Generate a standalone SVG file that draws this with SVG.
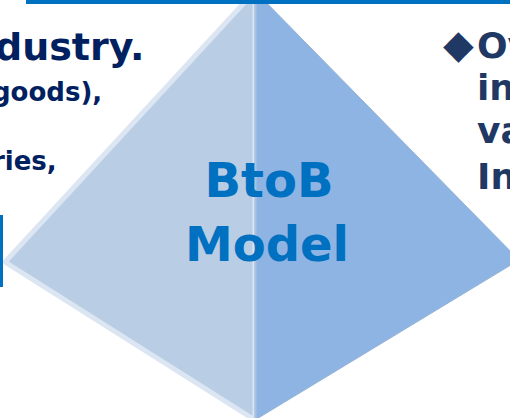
<svg xmlns="http://www.w3.org/2000/svg" width="510" height="418" viewBox="0 0 510 418">
  <style>
    .navy { fill: #002060; font-family: "DejaVu Sans", Verdana, sans-serif; font-weight: bold; }
    .navy2 { fill: #1F3864; font-family: "DejaVu Sans", Verdana, sans-serif; font-weight: bold; font-size: 36px; }
    .label { fill: #0070C0; font-family: "DejaVu Sans", Verdana, sans-serif; font-weight: bold; font-size: 48px; text-anchor: middle; }
    .bar { fill: #0070C0; }
  </style>
  <rect width="510" height="418" fill="#FFFFFF"/>
  <g id="pyramid">
    <polygon points="255,-9 5,262 255,420" fill="#B9CDE5" stroke="#DCE6F2" stroke-width="5" stroke-linejoin="miter"/>
    <polygon points="255,-9 519,260 255,420" fill="#8EB4E3" stroke="#95B3D7" stroke-width="1"/>
    <line x1="255.5" y1="0" x2="255.5" y2="418" stroke="#ABC3E1" stroke-width="2"/>
    <text class="label" x="269" y="197">BtoB</text>
    <text class="label" x="267" y="261">Model</text>
  </g>
  <g id="top-bar"><rect class="bar" x="26" y="0" width="484" height="4"/></g>
  <g id="side-bar"><rect class="bar" x="0" y="215" width="3" height="72"/></g>
  <g id="left-text">
    <text class="navy" x="-5" y="60" font-size="38">dustry.</text>
    <text class="navy" x="-8" y="101" font-size="26">goods),</text>
    <text class="navy" x="-8" y="170" font-size="26">ries,</text>
  </g>
  <g id="right-text">
    <text class="navy2" y="58"><tspan x="443" font-size="40">◆</tspan><tspan x="477">Ov</tspan></text>
    <text class="navy2" x="477" y="100">in</text>
    <text class="navy2" x="477" y="143">va</text>
    <text class="navy2" x="477" y="189">In</text>
  </g>
</svg>
